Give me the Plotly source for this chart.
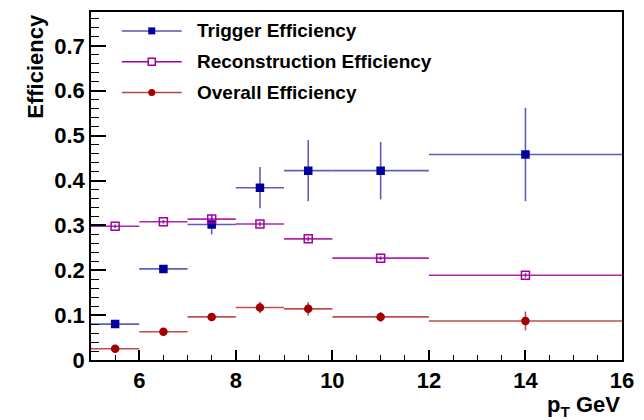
import plotly.graph_objects as go

# Bin centres and half-widths (pT, GeV)
pt_centers = [5.5, 6.5, 7.5, 8.5, 9.5, 11.0, 14.0]
pt_halfwidth = [0.5, 0.5, 0.5, 0.5, 0.5, 1.0, 2.0]

trigger_eff = [0.080, 0.203, 0.302, 0.384, 0.422, 0.422, 0.458]
trigger_err = [0.004, 0.008, 0.022, 0.046, 0.068, 0.064, 0.104]

reco_eff = [0.298, 0.308, 0.314, 0.303, 0.270, 0.227, 0.189]
reco_err = [0.004, 0.004, 0.006, 0.005, 0.005, 0.004, 0.005]

overall_eff = [0.025, 0.063, 0.096, 0.117, 0.114, 0.096, 0.087]
overall_err = [0.002, 0.003, 0.006, 0.013, 0.015, 0.011, 0.021]

legend_labels = ["Trigger Efficiency", "Reconstruction Efficiency", "Overall Efficiency"]

BLUE = "#00009c"
MAG = "#a000a0"
RED = "#a00000"
FONT = "Liberation Sans"

fig = go.Figure()

def add_series(y, ey, color, err_color, symbol, size, name):
    fig.add_trace(go.Scatter(
        x=pt_centers, y=y, mode="markers", name=name, showlegend=False,
        marker=dict(symbol=symbol, size=size, color=color,
                    line=dict(color=color, width=1.5)),
        error_x=dict(type="data", array=pt_halfwidth, width=0,
                     thickness=1.6, color=err_color),
        error_y=dict(type="data", array=ey, width=0,
                     thickness=1.6, color=err_color),
    ))

add_series(trigger_eff, trigger_err, BLUE, "rgba(40,40,170,0.75)", "square", 7, legend_labels[0])
add_series(reco_eff, reco_err, MAG, "rgba(160,0,160,0.85)", "square-open", 8, legend_labels[1])
add_series(overall_eff, overall_err, RED, "rgba(170,20,20,0.75)", "circle", 7, legend_labels[2])

# custom legend (layout decoration)
L, R, T, B = 91, 20, 10, 60
W, H = 644 - L - R, 420 - T - B
def px(xp):
    return (xp - L) / W
def py(yp):
    return (420 - B - yp) / H

shapes = []
annotations = []
rows = [29, 60, 91]
leg_cols = [(BLUE, "rgba(40,40,170,0.8)"), (MAG, MAG), (RED, "rgba(170,20,20,0.8)")]
for i, (lab, yr) in enumerate(zip(legend_labels, rows)):
    col, lcol = leg_cols[i]
    shapes.append(dict(type="line", xref="paper", yref="paper",
                       x0=px(122), x1=px(182), y0=py(yr), y1=py(yr),
                       line=dict(color=lcol, width=1.5)))
    if i == 0:
        shapes.append(dict(type="rect", xref="paper", yref="paper",
                           xsizemode="pixel", ysizemode="pixel",
                           xanchor=px(152), yanchor=py(yr),
                           x0=-3.5, x1=3.5, y0=-3.5, y1=3.5,
                           fillcolor=col, line=dict(color=col, width=0)))
    elif i == 1:
        shapes.append(dict(type="rect", xref="paper", yref="paper",
                           xsizemode="pixel", ysizemode="pixel",
                           xanchor=px(152), yanchor=py(yr),
                           x0=-3.5, x1=3.5, y0=-3.5, y1=3.5,
                           fillcolor="white", line=dict(color=col, width=1.5)))
    else:
        shapes.append(dict(type="circle", xref="paper", yref="paper",
                           xsizemode="pixel", ysizemode="pixel",
                           xanchor=px(152), yanchor=py(yr),
                           x0=-3.5, x1=3.5, y0=-3.5, y1=3.5,
                           fillcolor=col, line=dict(color=col, width=0)))
    annotations.append(dict(xref="paper", yref="paper", x=px(195), y=py(yr),
                            xanchor="left", yanchor="middle", showarrow=False,
                            text=lab, font=dict(family=FONT, size=19, color="black", weight="bold")))

annotations.append(dict(xref="paper", yref="paper", x=px(35), y=1.0,
                        xanchor="center", yanchor="top", textangle=-90, showarrow=False,
                        text="Efficiency", font=dict(family=FONT, size=22, color="black", weight="bold")))
annotations.append(dict(xref="paper", yref="paper", x=1.0, y=py(406),
                        xanchor="right", yanchor="middle", showarrow=False,
                        text="p<sub>T</sub> GeV", font=dict(family=FONT, size=22, color="black", weight="bold")))

fig.update_layout(
    width=644, height=420,
    margin=dict(l=L, r=R, t=T, b=B),
    paper_bgcolor="white", plot_bgcolor="white",
    showlegend=False,
    shapes=shapes, annotations=annotations,
    xaxis=dict(range=[5, 16], tickvals=[6, 8, 10, 12, 14, 16], ticks="inside", ticklen=10,
               tickwidth=1.5, tickcolor="black",
               minor=dict(dtick=0.5, tick0=5, ticks="inside", ticklen=5, tickwidth=1.2, tickcolor="black"),
               showline=True, linecolor="black", linewidth=1.5, mirror=True,
               showgrid=False, zeroline=False,
               tickfont=dict(family=FONT, size=22, color="black", weight="bold")),
    yaxis=dict(range=[0, 0.7755], dtick=0.1, tick0=0, ticks="inside", ticklen=15,
               tickwidth=1.5, tickcolor="black",
               minor=dict(dtick=0.02, tick0=0, ticks="inside", ticklen=8, tickwidth=1.2, tickcolor="black"),
               showline=True, linecolor="black", linewidth=1.5, mirror=True,
               showgrid=False, zeroline=False,
               tickfont=dict(family=FONT, size=22, color="black", weight="bold")),
)

fig.write_html("out.html")
